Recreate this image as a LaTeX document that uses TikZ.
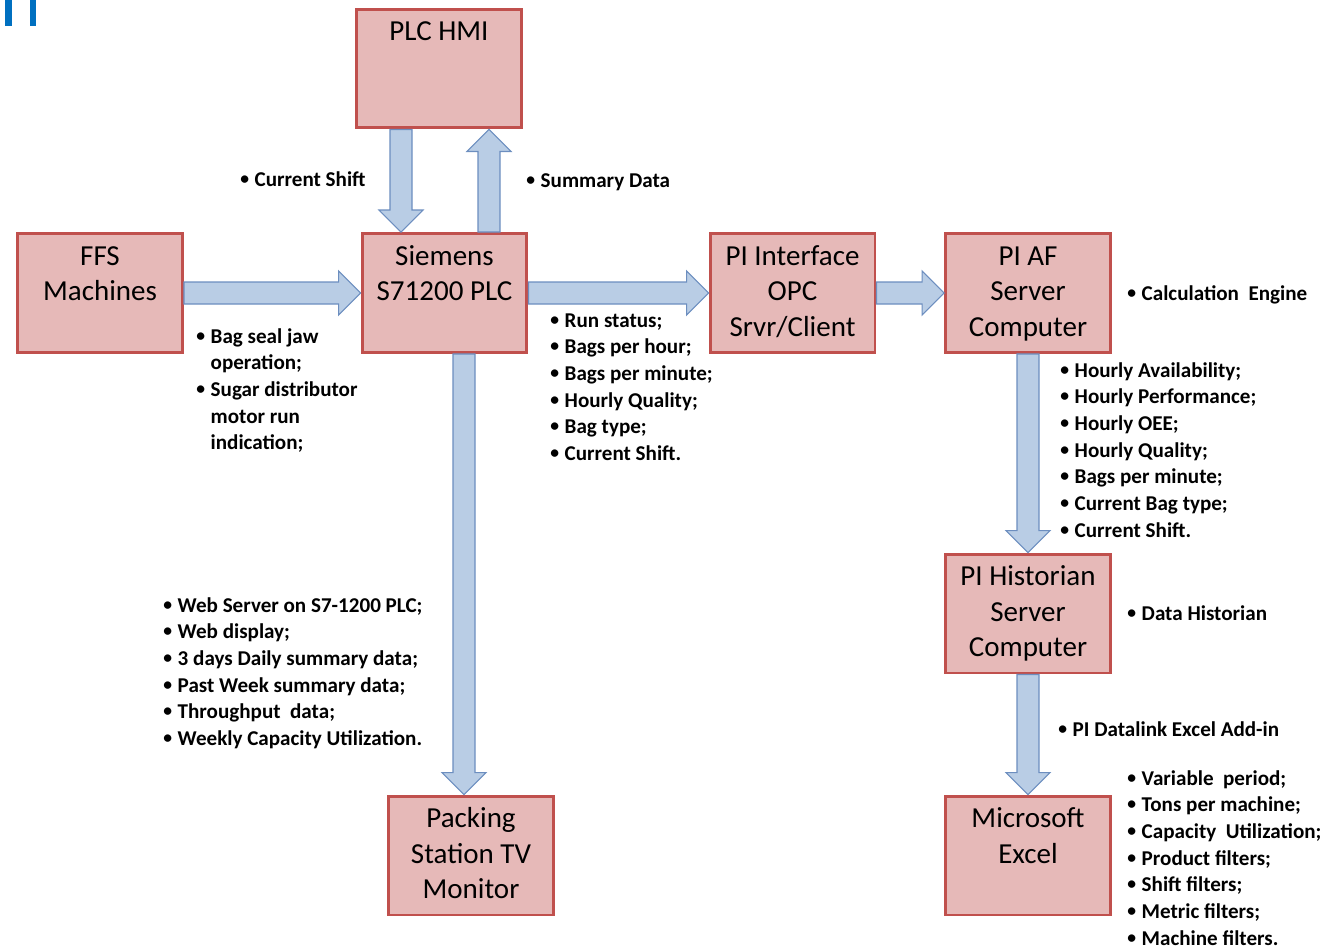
\documentclass[tikz,border=0pt]{standalone}
\usepackage{fontspec}
\setmainfont{Carlito}
\usepackage{tikz}
\usetikzlibrary{calc,positioning}

\definecolor{boxfill}{HTML}{E6B9B8}
\definecolor{boxline}{HTML}{C0504D}
\definecolor{arrfill}{HTML}{B9CDE5}
\definecolor{arrline}{HTML}{6C8EBF}
\definecolor{markblue}{HTML}{0070C0}

% wide arrow between two named points
\newcommand{\blockarrow}[2]{%
  \coordinate (headbase) at ($(#2)!0.44cm!(#1)$);
  \draw[blockarr] ($(#1)!0.22cm!90:(#2)$) -- ($(headbase)!0.22cm!90:(#2)$)
    -- ($(headbase)!0.44cm!90:(#2)$) -- (#2) -- ($(headbase)!0.44cm!-90:(#2)$)
    -- ($(headbase)!0.22cm!-90:(#2)$) -- ($(#1)!0.22cm!-90:(#2)$) -- cycle;}
\newcommand{\btext}[1]{\parbox[c][2.38cm][t]{3.3cm}{\centering\rule{0pt}{0.63cm}#1}}
\newcommand{\blist}[1]{\begin{tabular}[t]{@{}l@{\hspace{3.2pt}}l@{}}#1\end{tabular}}
\newcommand{\bul}{\raisebox{0.09em}{\fontsize{10}{10}\selectfont •}}

\begin{document}
\begin{tikzpicture}[x=0.02cm, y=-0.02cm,
  box/.style={draw=boxline, fill=boxfill, line width=1.7pt, inner sep=0pt,
    minimum width=3.3cm, minimum height=2.38cm,
    font=\fontsize{16.5}{20.3}\selectfont},
  blockarr/.style={draw=arrline, fill=arrfill, line width=0.6pt},
  note/.style={anchor=base west, inner sep=0pt,
    font=\fontsize{12}{15.2}\selectfont\bfseries},
]
\useasboundingbox (0,0) rectangle (1328,950);
\fill[markblue] (5,0) rectangle (12,26);
\fill[markblue] (30,0) rectangle (36,26);

% boxes
\node[box] (hmi) at (439,68.5) {\btext{PLC HMI}};
\node[box] (ffs) at (100,293) {\btext{FFS\\Machines}};
\node[box] (plc) at (444.5,293) {\btext{Siemens\\S71200 PLC}};
\node[box] (opc) at (792.5,293) {\btext{PI Interface\\OPC\\Srvr/Client}};
\node[box] (af) at (1028,293) {\btext{PI AF\\Server\\Computer}};
\node[box] (hist) at (1028,613.5) {\btext{PI Historian\\Server\\Computer}};
\node[box] (xls) at (1028,855.5) {\btext{Microsoft\\Excel}};
\node[box] (tv) at (471,855.5) {\btext{Packing\\Station TV\\Monitor}};

% arrows
\coordinate (hmiL) at ($(hmi.south)+(-38,0)$);
\coordinate (plcL) at (hmiL |- plc.north);
\coordinate (plcR) at ($(plc.north)+(44.5,0)$);
\coordinate (hmiR) at (plcR |- hmi.south);
\coordinate (plcD) at ($(plc.south)+(19.5,0)$);
\coordinate (tvU) at (plcD |- tv.north);
\blockarrow{ffs.east}{plc.west}
\blockarrow{hmiL}{plcL}
\blockarrow{plcR}{hmiR}
\blockarrow{plc.east}{opc.west}
\blockarrow{opc.east}{af.west}
\blockarrow{af.south}{hist.north}
\blockarrow{hist.south}{xls.north}
\blockarrow{plcD}{tvU}

% notes
\node[note] (n-shift) at (240,186) {\blist{\bul & Current Shift}};
\node[note] (n-sum) at (526,187) {\blist{\bul & Summary Data}};
\node[note] (n-ffs) at (196,343) {\blist{\bul & Bag seal jaw\\ & operation;\\
  \bul & Sugar distributor\\ & motor run\\ & indication;}};
\node[note] (n-plc) at (550,327) {\blist{\bul & Run status;\\ \bul & Bags per hour;\\
  \bul & Bags per minute;\\ \bul & Hourly Quality;\\ \bul & Bag type;\\
  \bul & Current Shift.}};
\node[note] (n-calc) at (1127,300) {\blist{\bul & Calculation\ \ Engine}};
\node[note] (n-af) at (1060,377) {\blist{\bul & Hourly Availability;\\
  \bul & Hourly Performance;\\ \bul & Hourly OEE;\\ \bul & Hourly Quality;\\
  \bul & Bags per minute;\\ \bul & Current Bag type;\\ \bul & Current Shift.}};
\node[note] (n-hist) at (1127,620) {\blist{\bul & Data Historian}};
\node[note] (n-link) at (1058,736) {\blist{\bul & PI Datalink Excel Add-in}};
\node[note] (n-xls) at (1127,785) {\blist{\bul & Variable\ \ period;\\
  \bul & Tons per machine;\\ \bul & Capacity\ \ Utilization;\\
  \bul & Product filters;\\ \bul & Shift filters;\\ \bul & Metric filters;\\
  \bul & Machine filters.}};
\node[note] (n-web) at (163,612) {\blist{\bul & Web Server on S7-1200 PLC;\\
  \bul & Web display;\\ \bul & 3 days Daily summary data;\\
  \bul & Past Week summary data;\\ \bul & Throughput\ \ data;\\
  \bul & Weekly Capacity Utilization.}};
\end{tikzpicture}
\end{document}
